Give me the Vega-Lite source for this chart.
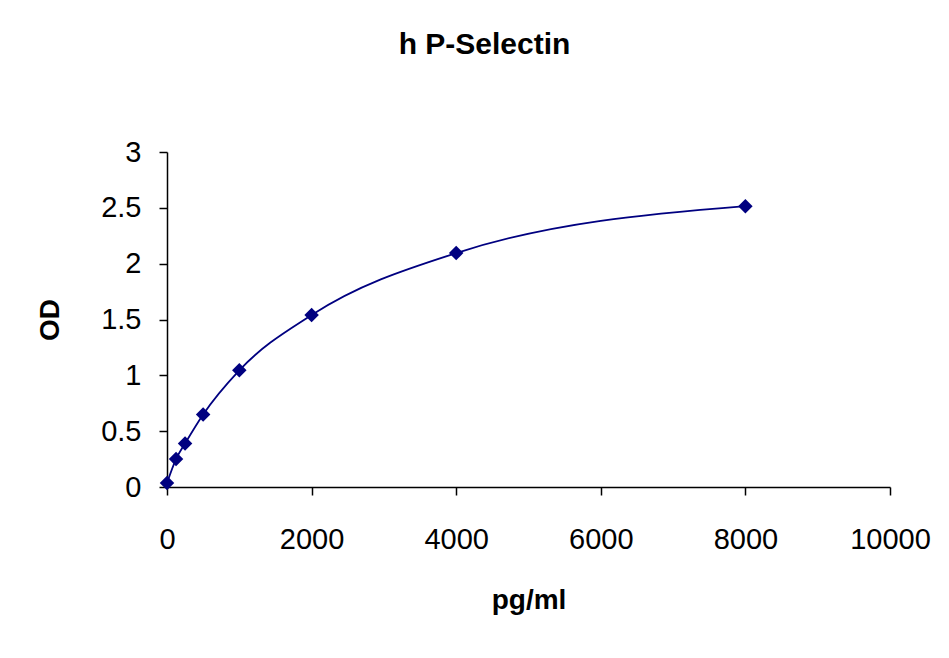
{
  "$schema": "https://vega.github.io/schema/vega-lite/v6.json",
  "autosize": {"type": "none"},
  "width": 723,
  "height": 335,
  "padding": {"left": 167, "top": 152, "right": 59, "bottom": 171},
  "background": "white",
  "title": {
    "text": "h P-Selectin",
    "font": "Liberation Sans",
    "fontSize": 30,
    "fontWeight": "bold",
    "color": "black",
    "anchor": "middle",
    "dx": -44,
    "offset": 78
  },
  "data": {
    "values": [
      {"conc": 0, "od": 0.036},
      {"conc": 125, "od": 0.25},
      {"conc": 250, "od": 0.39},
      {"conc": 500, "od": 0.65},
      {"conc": 1000, "od": 1.045},
      {"conc": 2000, "od": 1.54},
      {"conc": 4000, "od": 2.095},
      {"conc": 8000, "od": 2.515}
    ]
  },
  "encoding": {
    "x": {
      "field": "conc",
      "type": "quantitative",
      "title": "pg/ml",
      "scale": {"domain": [0, 10000], "nice": false},
      "axis": {"values": [0, 2000, 4000, 6000, 8000, 10000], "labelFlush": false, "format": "d"}
    },
    "y": {
      "field": "od",
      "type": "quantitative",
      "title": "OD",
      "scale": {"domain": [0, 3], "nice": false},
      "axis": {"values": [0, 0.5, 1, 1.5, 2, 2.5, 3], "labelFlush": false, "format": "~g"}
    }
  },
  "layer": [
    {"mark": {"type": "line", "color": "#000080", "strokeWidth": 1.8, "interpolate": "monotone"}},
    {"mark": {"type": "point", "shape": "diamond", "filled": true, "color": "#000080", "opacity": 1, "size": 210}}
  ],
  "config": {
    "view": {"stroke": null},
    "axis": {
      "grid": false,
      "domainColor": "black",
      "domainWidth": 1.5,
      "tickColor": "black",
      "tickWidth": 1.5,
      "tickSize": 8,
      "labelFont": "Liberation Sans",
      "labelFontSize": 29,
      "labelColor": "black",
      "titleFont": "Liberation Sans",
      "titleFontSize": 28,
      "titleFontWeight": "bold",
      "titleColor": "black"
    },
    "axisX": {"labelPadding": 30, "titlePadding": 32},
    "axisY": {"labelPadding": 18, "titlePadding": 36}
  }
}
